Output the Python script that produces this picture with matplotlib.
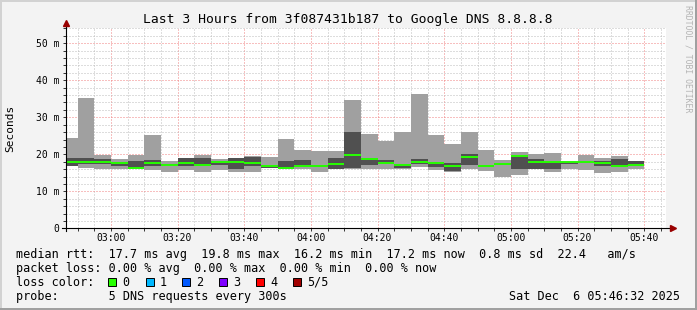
import numpy as np
import matplotlib.pyplot as plt
from matplotlib.patches import Rectangle
from matplotlib.ticker import FixedLocator, FuncFormatter

W, H = 697, 310
MONO = 'DejaVu Sans Mono'

title = "Last 3 Hours from 3f087431b187 to Google DNS 8.8.8.8"

# time axis in minutes after midnight
t_start = 2*60 + 46 + 32/60
t_end = 5*60 + 46 + 32/60
first_bar = 2*60 + 45
step = 5

# 5 pings per step, sorted: min, 2nd, median, 4th, max  (ms)
ping_min = [16.8, 16.4, 16.0, 16.0, 15.9, 15.8, 15.2, 15.8, 15.2, 15.8,
            15.1, 15.2, 16.2, 15.9, 16.0, 15.2, 16.0, 16.1, 16.0, 16.0,
            16.0, 16.5, 15.8, 15.3, 16.1, 15.5, 14.0, 14.5, 15.9, 15.2,
            16.0, 15.7, 15.0, 15.3, 16.0]
ping_lo = [16.9, 17.3, 17.4, 16.8, 16.2, 16.8, 17.0, 16.8, 16.9, 17.0,
           16.0, 16.8, 16.4, 16.0, 16.6, 16.6, 16.1, 16.2, 17.2, 17.4,
           16.2, 17.4, 16.7, 15.4, 17.0, 16.6, 17.2, 16.0, 16.0, 16.0,
           17.5, 17.6, 16.8, 16.6, 16.8]
median = [18.0, 18.0, 18.0, 17.7, 16.3, 17.7, 17.2, 17.7, 17.2, 18.0,
          18.0, 17.7, 16.8, 16.2, 16.8, 16.8, 17.5, 19.8, 18.8, 17.7,
          17.1, 18.0, 17.7, 16.8, 19.3, 16.8, 17.4, 19.5, 17.9, 17.9,
          17.8, 17.8, 17.7, 16.8, 17.2]
ping_hi = [19.0, 19.0, 18.7, 17.9, 18.1, 18.4, 17.4, 18.9, 18.9, 18.3,
           18.9, 19.4, 17.0, 18.2, 18.4, 17.0, 19.0, 26.0, 19.1, 18.4,
           17.5, 18.7, 17.8, 17.6, 20.0, 17.0, 17.6, 19.6, 18.7, 18.0,
           17.9, 18.0, 18.1, 18.7, 18.1]
ping_max = [24.4, 35.3, 19.8, 18.7, 19.8, 25.2, 18.2, 19.0, 19.8, 18.6,
            19.0, 19.5, 19.3, 24.1, 21.1, 20.9, 20.8, 34.7, 25.5, 23.6,
            26.0, 36.3, 25.2, 22.8, 26.0, 21.1, 18.4, 20.6, 20.0, 20.3,
            18.0, 19.8, 18.9, 19.5, 18.2]

x_labels = ["03:00", "03:20", "03:40", "04:00", "04:20", "04:40", "05:00", "05:20", "05:40"]
y_major = [0, 10, 20, 30, 40, 50]

rows = ["median rtt:  17.7 ms avg  19.8 ms max  16.2 ms min  17.2 ms now  0.8 ms sd  22.4   am/s",
        "packet loss: 0.00 % avg  0.00 % max  0.00 % min  0.00 % now",
        "loss color:",
        "probe:       5 DNS requests every 300s"]
loss_labels = ["0", "1", "2", "3", "4", "5/5"]
loss_colors = ["#26ff00", "#00b8ff", "#0059ff", "#7e00ff", "#ff0000", "#a10000"]
stamp = "Sat Dec  6 05:46:32 2025"


def fx(x):
    return x / W


def fy(y):
    return 1 - y / H


fig = plt.figure(figsize=(W/100, H/100), dpi=100, facecolor='#f3f3f3')
ax = fig.add_axes([fx(66), fy(228.3), 600/W, 200/H])
ax.set_facecolor('white')
ax.set_xlim(t_start, t_end)
ax.set_ylim(0, 200/3.7)

starts = first_bar + step*np.arange(len(median))
lo, hi = np.array(ping_lo), np.array(ping_hi)
mn, mx = np.array(ping_min), np.array(ping_max)
ax.bar(starts, mx - mn, bottom=mn, width=step, align='edge', color='#a0a0a0', lw=0, zorder=1)
ax.bar(starts, hi - lo, bottom=lo, width=step, align='edge', color='#505050', lw=0, zorder=1.5)
ax.hlines(median, starts, starts + step, color=loss_colors[0], lw=1.4, zorder=3)

# grid
major_x = [int(s[:2])*60 + int(s[3:]) for s in x_labels]
minor_x = [m for m in range(165, 350, 5) if m not in major_x]
minor_y = [v for v in range(2, 55, 2) if v not in y_major]
ax.xaxis.set_major_locator(FixedLocator(major_x))
ax.xaxis.set_minor_locator(FixedLocator(minor_x))
ax.yaxis.set_major_locator(FixedLocator(y_major))
ax.yaxis.set_minor_locator(FixedLocator(minor_y))
ax.xaxis.set_major_formatter(FuncFormatter(lambda v, p: "%02d:%02d" % (v // 60, v % 60)))
ax.yaxis.set_major_formatter(FuncFormatter(lambda v, p: "0" if v == 0 else "%d m" % v))
ax.set_axisbelow(True)
ax.grid(which='minor', color='#bdbdbd', linestyle=(0, (1, 2)), lw=0.72)
ax.grid(which='major', color='#f08080', linestyle=(0, (1, 2)), lw=0.72)
ax.tick_params(which='both', direction='out', length=2, width=0.7, color='#333333')
ax.tick_params(axis='x', which='major', pad=1.5, labelsize=7)
ax.tick_params(axis='y', which='major', pad=2.5, labelsize=7)
for lab in ax.get_xticklabels() + ax.get_yticklabels():
    lab.set_family(MONO)
for s in ax.spines.values():
    s.set_visible(False)

# axis lines with arrows
ax.plot([-0.007, 1.008], [0, 0], transform=ax.transAxes, clip_on=False, color='black', lw=0.8, zorder=5)
ax.plot([0, 0], [-0.015, 1.02], transform=ax.transAxes, clip_on=False, color='black', lw=0.8, zorder=5)
ax.plot([1.011], [0], transform=ax.transAxes, clip_on=False, marker='>', ms=4, color='#990000', zorder=6)
ax.plot([0], [1.025], transform=ax.transAxes, clip_on=False, marker='^', ms=4, color='#990000', zorder=6)

fig.text(fx(348), fy(19.3), title, family=MONO, size=9.4, ha='center', va='center')
fig.text(fx(10.5), fy(128), "Seconds", family=MONO, size=8, rotation=90, ha='center', va='center')
fig.text(fx(688), fy(59), "RRDTOOL / TOBI OETIKER", family=MONO, size=5.9, rotation=270,
         color='#b4b4b4', ha='center', va='center')

row_y = [254.3, 268.3, 282.3, 296.3]
for txt, y in zip(rows, row_y):
    fig.text(fx(16), fy(y), txt, family=MONO, size=8.5, ha='left', va='center')
fig.text(fx(680), fy(row_y[3]), stamp, family=MONO, size=8.5, ha='right', va='center')

box_x = [108, 146, 182, 219, 256, 293]
for bx, lab, col in zip(box_x, loss_labels, loss_colors):
    fig.add_artist(Rectangle((fx(bx), fy(286)), 8/W, 8/H, transform=fig.transFigure,
                             facecolor=col, edgecolor='black', lw=0.7))
    fig.text(fx(bx + 14), fy(row_y[2]), lab, family=MONO, size=8.5, ha='left', va='center')

# 3d-ish frame
fig.add_artist(Rectangle((0, 0), 1, 2/H, transform=fig.transFigure, color='#a0a0a0', lw=0))
fig.add_artist(Rectangle((1 - 2/W, 0), 2/W, 1, transform=fig.transFigure, color='#a0a0a0', lw=0))
fig.add_artist(Rectangle((0, 1 - 2/H), 1 - 2/W, 2/H, transform=fig.transFigure, color='#d2d2d2', lw=0))
fig.add_artist(Rectangle((0, 2/H), 2/W, 1 - 2/H, transform=fig.transFigure, color='#d2d2d2', lw=0))

fig.savefig('out.png', dpi=100, facecolor=fig.get_facecolor())
